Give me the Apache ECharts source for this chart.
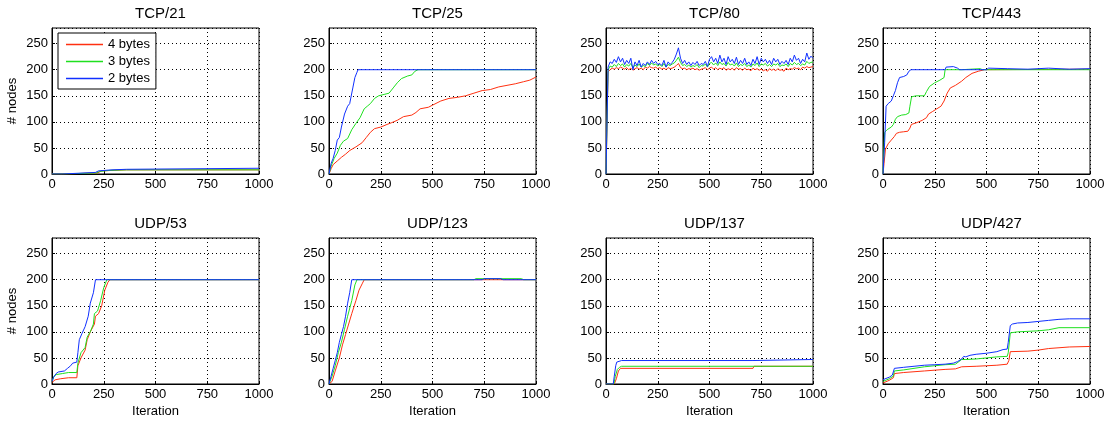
<!DOCTYPE html>
<html>
<head>
<meta charset="utf-8">
<script src="https://cdn.jsdelivr.net/npm/echarts@6/dist/echarts.min.js"></script>
<style>
html, body { margin: 0; padding: 0; background: #fff; }
#main { width: 1109px; height: 421px; }
</style>
</head>
<body>
<div id="main"></div>
<script>
// titles and legend names
var panelTitles = ['TCP/21', 'TCP/25', 'TCP/80', 'TCP/443', 'UDP/53', 'UDP/123', 'UDP/137', 'UDP/427'];
var seriesNames = ['4 bytes', '3 bytes', '2 bytes'];
var xTicks = [0, 250, 500, 750, 1000];
var yTicks = [0, 50, 100, 150, 200, 250];

// TCP/21  [iteration, nodes]
var tcp21_4 = [[0,0],[50,0],[55,2],[220,2],[240,6],[300,7],[360,8],[1000,8]];
var tcp21_3 = [[0,0],[50,0],[55,2],[215,2],[230,5],[280,7],[360,8],[1000,8]];
var tcp21_2 = [[0,0],[50,0],[55,3],[210,3],[225,6],[230,8],[290,8],[295,9],[360,9],[365,11],[1000,11]];

// TCP/25
var tcp25_4 = [[0,0],[10,10],[20,18],[40,25],[60,32],[80,38],[100,45],[130,52],[160,60],[180,70],[200,80],[220,87],[250,90],[280,95],[300,98],[330,103],[360,110],[400,113],[420,118],[440,125],[480,128],[500,132],[540,140],[580,145],[620,147],[660,150],[700,155],[740,160],[780,162],[820,167],[860,170],[900,173],[940,177],[970,180],[1000,186]];
var tcp25_3 = [[0,0],[10,15],[25,30],[40,40],[55,55],[70,63],[90,68],[110,85],[130,97],[150,108],[170,125],[185,130],[200,135],[220,145],[240,150],[270,153],[290,155],[310,165],[330,175],[350,183],[380,188],[400,190],[415,197],[430,200],[1000,200]];
var tcp25_2 = [[0,0],[10,20],[20,30],[30,45],[40,65],[50,70],[60,90],[75,115],[90,130],[100,135],[115,165],[125,185],[135,195],[140,200],[1000,200]];

// TCP/80 (sampled every 10 iterations)
var tcp80_iter = [0,
  10,20,30,40,50,60,70,80,90,100,
  110,120,130,140,150,160,170,180,190,200,
  210,220,230,240,250,260,270,280,290,300,
  310,320,330,340,350,360,370,380,390,400,
  410,420,430,440,450,460,470,480,490,500,
  510,520,530,540,550,560,570,580,590,600,
  610,620,630,640,650,660,670,680,690,700,
  710,720,730,740,750,760,770,780,790,800,
  810,820,830,840,850,860,870,880,890,900,
  910,920,930,940,950,960,970,980,990,1000];
var tcp80_4 = [0,
  196,200,203,201,204,202,205,203,201,204,
  200,203,199,202,204,201,203,200,205,203,
  206,204,203,205,202,204,201,203,200,204,
  202,203,205,208,212,204,202,203,200,202,
  201,203,200,202,199,201,202,204,200,203,
  205,201,204,200,203,201,204,199,202,200,
  203,199,204,201,202,199,203,200,201,198,
  203,200,202,199,201,198,200,197,202,199,
  201,198,202,199,200,197,203,200,202,201,
  204,202,203,200,205,203,206,204,205,206];
var tcp80_3 = [0,
  200,207,205,210,206,212,208,211,205,210,
  207,212,204,209,206,211,205,208,206,212,
  208,213,209,211,207,210,206,212,205,210,
  208,211,213,218,224,214,208,210,206,209,
  205,208,206,210,204,208,207,211,205,212,
  214,209,213,208,215,210,212,207,214,209,
  211,207,213,206,210,208,212,206,209,205,
  211,208,213,206,211,209,212,207,210,206,
  211,209,212,206,209,208,211,206,212,209,
  214,210,212,208,211,209,216,212,214,215];
var tcp80_2 = [0,
  205,215,212,220,214,225,215,222,210,218,
  212,222,200,215,208,218,205,212,208,215,
  210,218,212,216,210,212,208,218,205,215,
  210,214,220,230,242,222,212,218,210,215,
  208,214,210,216,208,212,210,216,206,220,
  225,215,222,212,228,215,222,210,225,215,
  220,212,224,210,218,212,222,210,215,208,
  220,212,225,210,222,215,220,212,218,210,
  222,215,220,210,216,212,218,210,222,215,
  228,218,222,212,220,215,232,220,226,222];

// TCP/443
var tcp443_4 = [[0,0],[5,20],[12,48],[25,58],[40,65],[55,72],[65,78],[80,80],[100,81],[120,82],[130,88],[137,95],[160,98],[190,103],[210,108],[220,115],[240,120],[260,125],[280,130],[295,140],[310,155],[325,165],[350,170],[380,178],[400,185],[430,193],[460,197],[490,200],[1000,201]];
var tcp443_3 = [[0,0],[8,80],[20,85],[40,90],[50,95],[60,105],[70,110],[90,113],[110,114],[125,117],[130,130],[138,148],[160,150],[200,150],[210,158],[225,168],[250,175],[275,180],[295,185],[300,200],[380,200],[385,202],[470,202],[480,200],[1000,200]];
var tcp443_2 = [[0,0],[8,60],[15,130],[25,135],[40,140],[50,150],[60,160],[70,175],[80,185],[100,187],[115,190],[125,197],[135,200],[280,200],[300,200],[305,205],[340,206],[360,203],[370,200],[500,200],[510,203],[600,202],[700,201],[800,203],[900,201],[1000,202]];

// UDP/53
var udp53_4 = [[0,3],[15,8],[40,10],[80,12],[120,12],[125,35],[140,50],[160,65],[170,85],[185,100],[205,115],[210,130],[225,135],[240,150],[255,180],[270,195],[280,200],[1000,200]];
var udp53_3 = [[0,5],[10,15],[20,18],[50,20],[80,22],[120,22],[125,40],[140,60],[160,70],[170,90],[185,100],[200,115],[205,135],[220,140],[235,160],[250,185],[265,200],[1000,200]];
var udp53_2 = [[0,5],[8,13],[20,20],[30,23],[60,25],[75,30],[90,35],[100,40],[120,42],[125,60],[132,85],[145,97],[160,110],[175,130],[185,155],[200,175],[210,200],[1000,200]];

// UDP/123
var udp123_4 = [[0,0],[15,5],[30,25],[50,50],[65,75],[80,95],[95,115],[110,135],[130,160],[145,180],[160,192],[170,200],[1000,200]];
var udp123_3 = [[0,0],[15,15],[30,35],[45,60],[60,80],[75,105],[90,130],[110,160],[125,190],[135,200],[700,200],[710,202],[930,202],[940,200],[1000,200]];
var udp123_2 = [[0,0],[10,15],[20,30],[30,45],[40,60],[50,80],[60,95],[70,110],[80,130],[90,155],[100,175],[110,200],[740,200],[750,202],[830,202],[840,200],[1000,200]];

// UDP/137
var udp137_4 = [[0,0],[40,0],[50,10],[60,25],[70,30],[710,30],[715,34],[1000,34]];
var udp137_3 = [[0,0],[38,0],[45,15],[55,28],[65,32],[75,34],[1000,34]];
var udp137_2 = [[0,0],[35,0],[40,15],[47,35],[52,42],[75,45],[710,45],[715,47],[1000,47]];

// UDP/427
var udp427_4 = [[0,2],[30,7],[50,12],[55,20],[100,22],[200,25],[300,28],[350,29],[380,33],[450,34],[500,35],[550,36],[600,38],[608,45],[615,62],[700,63],[750,65],[800,68],[900,71],[1000,72]];
var udp427_3 = [[0,5],[30,10],[50,15],[55,25],[100,27],[200,33],[300,37],[350,38],[380,47],[400,47],[450,48],[500,50],[550,52],[600,53],[605,60],[615,98],[650,100],[700,101],[750,102],[800,104],[850,108],[1000,108]];
var udp427_2 = [[0,8],[10,10],[30,13],[45,17],[50,20],[55,30],[100,32],[150,34],[200,36],[250,37],[300,38],[340,40],[360,43],[380,48],[390,53],[400,52],[420,55],[450,57],[500,59],[550,62],[580,66],[600,67],[605,80],[615,112],[625,115],[650,117],[700,118],[750,120],[800,122],[850,124],[900,125],[1000,125]];

function pairUp(xs, ys) {
	var out = [];
	for (var i = 0; i < xs.length; i++) out.push([xs[i], ys[i]]);
	return out;
}

var panelData = [
	[tcp21_4, tcp21_3, tcp21_2],
	[tcp25_4, tcp25_3, tcp25_2],
	[pairUp(tcp80_iter, tcp80_4), pairUp(tcp80_iter, tcp80_3), pairUp(tcp80_iter, tcp80_2)],
	[tcp443_4, tcp443_3, tcp443_2],
	[udp53_4, udp53_3, udp53_2],
	[udp123_4, udp123_3, udp123_2],
	[udp137_4, udp137_3, udp137_2],
	[udp427_4, udp427_3, udp427_2]
];

var colors = ['#ff3010', '#1fe01f', '#1030ff'];
var font = 'Liberation Sans, Arial, Helvetica, sans-serif';
var lefts = [52, 329, 606, 883];
var tops = [28, 238];
var gw = 207, gh = 146;

function plainNum(v) { return String(v); }

var grids = [], xAxes = [], yAxes = [], titles = [], series = [];
for (var p = 0; p < 8; p++) {
	var col = p % 4, row = Math.floor(p / 4);
	grids.push({
		left: lefts[col], top: tops[row], width: gw, height: gh,
		show: true, borderColor: '#000', borderWidth: 1, backgroundColor: '#fff'
	});
	titles.push({
		text: panelTitles[p],
		left: lefts[col] + gw / 2,
		top: tops[row] - 27,
		textAlign: 'center',
		textStyle: { fontFamily: font, fontSize: 15, fontWeight: 'normal', color: '#000' }
	});
	xAxes.push({
		type: 'value', gridIndex: p,
		min: xTicks[0], max: xTicks[xTicks.length - 1], interval: 250,
		name: row === 1 ? 'Iteration' : '',
		nameLocation: 'middle', nameGap: 21,
		nameTextStyle: { fontFamily: font, fontSize: 13, color: '#000' },
		axisLine: { show: true, lineStyle: { color: '#000', width: 1 } },
		axisTick: { show: true, inside: true, length: 3, lineStyle: { color: '#000' } },
		axisLabel: { fontFamily: font, fontSize: 13, color: '#000', margin: 4, formatter: plainNum },
		splitLine: { show: true, lineStyle: { color: '#000', width: 1, type: [1, 3] } }
	});
	yAxes.push({
		type: 'value', gridIndex: p,
		min: yTicks[0], max: 280, interval: 50,
		name: col === 0 ? '# nodes' : '',
		nameLocation: 'middle', nameGap: 33,
		nameTextStyle: { fontFamily: font, fontSize: 13, color: '#000' },
		axisLine: { show: true, lineStyle: { color: '#000', width: 1 } },
		axisTick: { show: true, inside: true, length: 3, lineStyle: { color: '#000' } },
		axisLabel: { fontFamily: font, fontSize: 13, color: '#000', margin: 4, showMaxLabel: false, formatter: plainNum },
		splitLine: { show: true, lineStyle: { color: '#000', width: 1, type: [1, 3] } }
	});
	for (var s = 0; s < 3; s++) {
		series.push({
			name: seriesNames[s],
			type: 'line',
			xAxisIndex: p, yAxisIndex: p,
			data: panelData[p][s],
			symbol: 'none',
			showSymbol: false,
			animation: false,
			lineStyle: { color: colors[s], width: 1 },
			itemStyle: { color: colors[s] },
			z: 3 + s
		});
	}
}

var chart = echarts.init(document.getElementById('main'));
chart.setOption({
	animation: false,
	title: titles,
	grid: grids,
	xAxis: xAxes,
	yAxis: yAxes,
	legend: {
		data: seriesNames,
		orient: 'vertical',
		left: 58, top: 33,
		icon: 'rect',
		itemWidth: 37, itemHeight: 1.5, itemGap: 4,
		padding: [5, 6, 4, 8],
		backgroundColor: '#fff',
		borderColor: '#000', borderWidth: 1, borderRadius: 0,
		textStyle: { fontFamily: font, fontSize: 13, color: '#000' }
	},
	series: series
});
</script>
</body>
</html>
